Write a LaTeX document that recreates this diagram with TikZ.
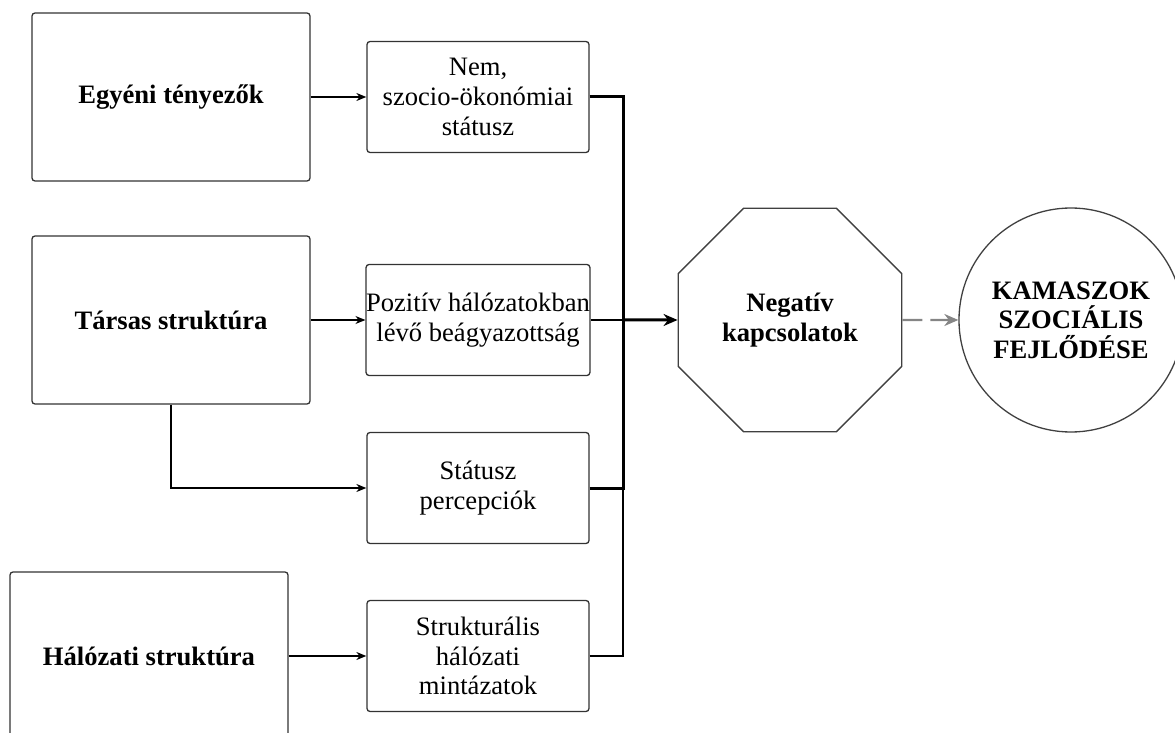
\documentclass[tikz,border=0pt]{standalone}
\usepackage{fontspec}
\setmainfont{Liberation Serif}
\usepackage{tikz}
\usetikzlibrary{shapes.geometric,arrows.meta}

\begin{document}
\begin{tikzpicture}[
  x=0.5pt, y=-0.5pt,
  every node/.style={font=\fontsize{13.3pt}{14.8pt}\selectfont, align=center, inner sep=0pt},
  bigbox/.style={draw=black!80, line width=0.65pt, rounded corners=1.5pt, minimum width=139pt, minimum height=84pt, font=\fontsize{13.3pt}{14.8pt}\selectfont\bfseries},
  smallbox/.style={draw=black!80, line width=0.65pt, rounded corners=1.5pt, minimum width=111pt, minimum height=55.5pt},
  arr/.style={-{Stealth[length=5pt,width=4pt]}, line width=0.6pt},
  thinline/.style={line width=0.8pt},
  thickline/.style={line width=1.5pt},
  thickarr/.style={-{Stealth[length=7pt,width=6pt]}, line width=1.5pt},
  dasharr/.style={-{Stealth[length=7pt,width=6pt]}, draw=black!48, line width=1.1pt, dash pattern=on 10pt off 4pt},
  ]
  \useasboundingbox (0,0) rectangle (1175,733);
  \clip (0,0) rectangle (1175,733);

  % bal oldali dobozok
  \node[bigbox] (egy) at (171,97)  {Egyéni tényezők};
  \node[bigbox] (tar) at (171,320) {Társas struktúra};
  \node[bigbox] (hal) at (149,656) {Hálózati struktúra};

  % kozepso dobozok
  \node[smallbox] (nem)    at (478,97)  {Nem,\\szocio-ökonómiai\\státusz};
  \node[smallbox] (poz)    at (478,320) {Pozitív hálózatokban\\lévő beágyazottság};
  \node[smallbox] (stat)   at (478,488) {Státusz\\percepciók};
  \node[smallbox] (strukt) at (478,656) {Strukturális\\hálózati\\mintázatok};

  \node[draw=black!75, line width=0.65pt, regular polygon, regular polygon sides=8, minimum size=121pt, font=\fontsize{13.3pt}{14.8pt}\selectfont\bfseries] (neg) at (790,320) {Negatív\\kapcsolatok};
  \node[draw=black!75, line width=0.65pt, circle, minimum size=112pt, font=\fontsize{13.3pt}{14.8pt}\selectfont\bfseries] (kam) at (1071,320) {KAMASZOK\\SZOCIÁLIS\\FEJLŐDÉSE};

  \coordinate (bus) at (623,320);

  % nyilak
  \draw[arr] (egy) -- (nem);
  \draw[arr] (tar) -- (poz);
  \draw[arr] (tar.south) |- (stat.west);
  \draw[arr] (hal) -- (strukt);

  \draw[thinline] (strukt.east) -| (bus);
  \draw[thinline] (poz.east) -- (bus);
  \draw[thickline] (nem.east) -| (bus);
  \draw[thickline] (stat.east) -| (bus);
  \draw[thickarr] (bus) -- (neg);
  \draw[dasharr] (neg) -- (kam);
\end{tikzpicture}
\end{document}
